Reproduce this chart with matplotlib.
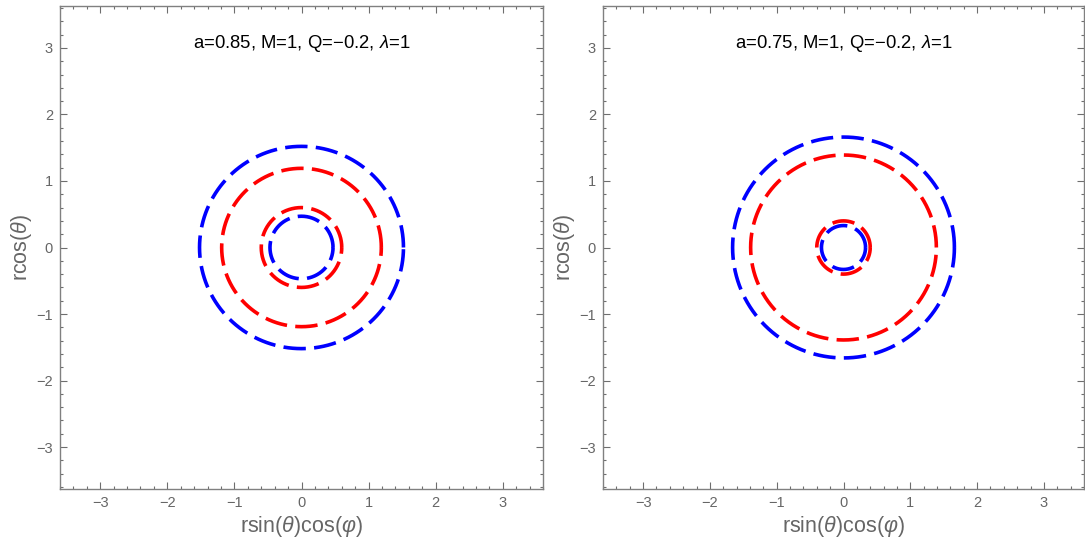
import numpy as np
import matplotlib.pyplot as plt
from matplotlib.ticker import MultipleLocator

plt.rcParams['font.family'] = ['Liberation Sans', 'DejaVu Sans']
plt.rcParams['mathtext.fontset'] = 'custom'
plt.rcParams['mathtext.it'] = 'Liberation Sans:italic'
plt.rcParams['mathtext.rm'] = 'Liberation Sans'

# horizon / ergosurface radii for each parameter set
titles = ['a=0.85, M=1, Q=\u22120.2, $\\lambda$=1',
          'a=0.75, M=1, Q=\u22120.2, $\\lambda$=1']
blue_radii = [[1.52, 0.47], [1.66, 0.33]]
red_radii = [[1.19, 0.60], [1.39, 0.40]]
ticks = [-3, -2, -1, 0, 1, 2, 3]

phi = np.linspace(0, 2 * np.pi, 721)
gray = '#6e6e6e'

fig = plt.figure(figsize=(10.85, 5.46), dpi=100)
boxes = [[60 / 1085, 57 / 546, 483 / 1085, 483 / 546],
         [603 / 1085, 57 / 546, 481 / 1085, 483 / 546]]

for box, title, br, rr in zip(boxes, titles, blue_radii, red_radii):
    ax = fig.add_axes(box)
    for r in br:
        ax.plot(r * np.cos(phi), r * np.sin(phi), color='#0000ff', lw=2.6,
                dashes=(6.2, 2.3))
    for r in rr:
        ax.plot(r * np.cos(phi), r * np.sin(phi), color='#ff0000', lw=2.6,
                dashes=(6.2, 2.3))
    ax.set_xlim(-3.6, 3.6)
    ax.set_ylim(-3.63, 3.63)
    ax.set_xticks(ticks)
    ax.set_yticks(ticks)
    ax.set_xticklabels(['\u2212%d' % -t if t < 0 else str(t) for t in ticks])
    ax.set_yticklabels(['\u2212%d' % -t if t < 0 else str(t) for t in ticks])
    ax.xaxis.set_minor_locator(MultipleLocator(0.2))
    ax.yaxis.set_minor_locator(MultipleLocator(0.2))
    ax.tick_params(which='both', direction='in', top=True, right=True,
                   color=gray, labelcolor='#666666', labelsize=10.5, width=0.8)
    ax.tick_params(which='major', length=5, pad=5)
    ax.tick_params(which='minor', length=2.5)
    for s in ax.spines.values():
        s.set_color('#808080')
        s.set_linewidth(1.0)
    ax.set_xlabel('rsin($\\theta$)cos($\\varphi$)', fontsize=15.5,
                  color='#666666', labelpad=3)
    ax.set_ylabel('rcos($\\theta$)', fontsize=15.5, color='#666666', labelpad=2)
    ax.text(0, 3.06, title, ha='center', va='center', fontsize=13.3,
            color='black')

fig.savefig('out.png', dpi=100)
